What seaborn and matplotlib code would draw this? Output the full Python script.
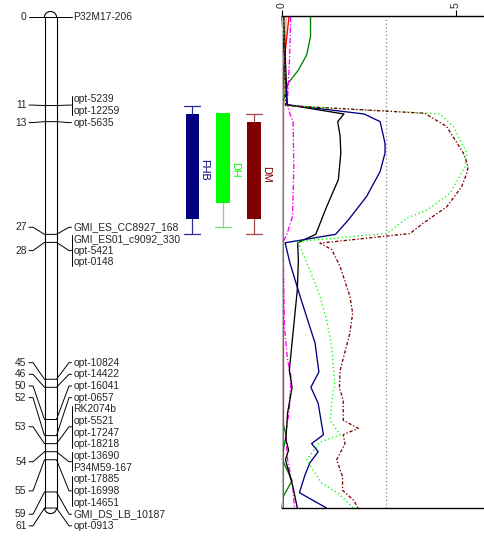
import numpy as np
import pandas as pd
import matplotlib
matplotlib.use("Agg")
import matplotlib.pyplot as plt
from matplotlib.patches import Arc
import seaborn as sns

# ---------------- data ----------------
marker_pos = [0, 11, 13, 27, 28, 45, 46, 50, 52, 53, 54, 55, 59, 61]
marker_names = [
    ["P32M17-206"],
    ["opt-5239", "opt-12259"],
    ["opt-5635"],
    ["GMI_ES_CC8927_168"],
    ["GMI_ES01_c9092_330", "opt-5421", "opt-0148"],
    ["opt-10824"],
    ["opt-14422"],
    ["opt-16041"],
    ["opt-0657"],
    ["RK2074b", "opt-5521", "opt-17247", "opt-18218"],
    ["opt-13690", "P34M59-167"],
    ["opt-17885", "opt-16998", "opt-14651"],
    ["GMI_DS_LB_10187"],
    ["opt-0913"],
]

qtl_traits = ["FHB", "DH", "DM"]
qtl_ci_lo = [11.02, 11.96, 12.05]
qtl_ci_hi = [26.96, 26.05, 26.96]
qtl_box_lo = [12.05, 11.96, 13.0]
qtl_box_hi = [25.09, 23.07, 25.1]

fhb_cm = [0, 10.9, 12.05, 13.0, 15.7, 16.9, 19.2, 22.3, 25.2, 27.0, 28.05, 30.6, 34.7,
          38.5, 40.5, 44.1, 46.0, 48.0, 51.9, 53.0, 54.0, 55.4, 56.9, 59.1, 61.0]
fhb_lod = [0.0, 0.14, 2.36, 2.82, 2.96, 2.96, 2.82, 2.43, 1.91, 1.54, 0.09, 0.23, 0.52,
           0.80, 0.95, 1.06, 0.83, 1.04, 1.19, 0.85, 1.04, 0.80, 0.66, 0.50, 1.28]

blk_cm = [0, 10.9, 12.05, 13.0, 14.8, 16.9, 20.2, 23.6, 27.0, 28.05, 30.2, 33.9, 43.9,
          46.0, 49.2, 52.5, 53.8, 55.0, 58.3, 61.0]
blk_lod = [0.05, 0.15, 1.78, 1.60, 1.67, 1.69, 1.62, 1.28, 0.97, 0.45, 0.47, 0.44, 0.21,
           0.29, 0.16, 0.11, 0.19, 0.10, 0.31, 0.44]

dh_cm = [0, 11.0, 12.05, 13.6, 16.9, 18.6, 21.9, 24.0, 25.0, 26.9, 27.9, 28.1, 31.4, 34.7,
         37.6, 41.0, 45.9, 46.3, 50.1, 51.9, 52.8, 55.0, 55.7, 57.9, 59.2, 61.0]
dh_lod = [0.05, 0.1, 4.54, 4.92, 5.31, 5.26, 4.83, 4.16, 3.58, 3.01, 0.42, 0.47, 0.80, 1.09,
          1.28, 1.43, 1.52, 1.47, 1.38, 1.67, 1.09, 0.71, 0.80, 1.14, 1.62, 2.05]

dm_cm = [0, 11.0, 11.96, 13.6, 16.9, 18.6, 19.4, 21.1, 23.6, 25.6, 26.9, 28.1, 28.9, 31.0,
         34.7, 36.8, 39.3, 43.9, 46.1, 47.6, 50.1, 51.1, 51.9, 53.0, 55.0, 57.1, 58.8, 60.0, 61.0]
dm_lod = [0.05, 0.1, 4.1, 4.73, 5.21, 5.35, 5.31, 5.16, 4.73, 4.06, 3.68, 1.09, 1.43, 1.67,
          1.95, 2.03, 1.95, 1.67, 1.65, 1.76, 1.76, 2.19, 1.76, 1.81, 1.57, 1.74, 1.74, 2.05, 2.19]

grn_cm = [0, 2.4, 4.7, 6.6, 8.2, 10.3, 11.0, 28.0, 45.0, 50.5, 52.0, 53.5, 55.0, 57.6, 59.6, 61.0]
grn_lod = [0.82, 0.82, 0.71, 0.47, 0.18, 0.04, 0.02, 0.02, 0.02, 0.03, 0.12, 0.05, 0.01, 0.29, 0.03, 0.0]

mag_cm = [0, 5, 10.9, 12.05, 13.0, 18.6, 24.8, 27.0, 28.05, 30.2, 38.5, 42.6, 44.7, 48.8,
          51.7, 55.0, 58.3, 61.0]
mag_lod = [0.25, 0.22, 0.15, 0.23, 0.32, 0.34, 0.30, 0.14, 0.02, 0.04, 0.07, 0.16, 0.26, 0.21,
           0.11, 0.16, 0.31, 0.36]

red_cm = [0, 6, 11, 28, 45, 61]
red_lod = [0.2, 0.05, 0.02, 0.02, 0.03, 0.03]

sal_cm = [0, 11, 28, 45, 61]
sal_lod = [0.12, 0.05, 0.04, 0.05, 0.04]

lod_threshold = 3.0
lod_ticks = [0, 5]

# ---------------- styles / layout ----------------
trait_styles = {
    "salmon": dict(color="#f4a090", ls="-"),
    "red": dict(color="#ff0000", ls="-"),
    "green": dict(color="#008000", ls="-"),
    "magenta": dict(color="#ff00ff", ls=(0, (4, 1.5, 1, 1.5))),
    "black": dict(color="#000000", ls="-"),
    "FHB": dict(color="#000080", ls="-"),
    "DH": dict(color="#00ff00", ls=(0, (1, 2))),
    "DM": dict(color="#800000", ls=(0, (2.5, 1.5, 1, 1.5))),
}
qtl_colors = ["#000080", "#00ff00", "#800000"]
qtl_whisker_colors = ["#2a2a9a", "#70e070", "#a04a4a"]
qtl_x = [192.3, 223.0, 254.0]

label_step = 1.448
cluster_start = {0: 0.0, 1: 10.22, 3: 26.12, 5: 42.94}

FS = 7.4
W, H = 484, 538
Y_TOP = 17.0       # pixel of 0 cM
PX_PER_CM = 8.05

sns.set_style("white")
plt.rcParams["font.family"] = ["Liberation Sans", "DejaVu Sans"]

fig = plt.figure(figsize=(W / 100, H / 100), dpi=100)

# ---------- map axes (x in pixels, y in cM) ----------
ax = fig.add_axes([0, 0, 1, 1])
ax.set_xlim(0, W)
ax.set_ylim((H - Y_TOP) / PX_PER_CM, -Y_TOP / PX_PER_CM)
ax.axis("off")

cx_l, cx_r = 44.5, 56.5
top_cm, bot_cm = marker_pos[0], marker_pos[-1]
ax.plot([cx_l, cx_l], [top_cm, bot_cm], color="black", lw=0.8)
ax.plot([cx_r, cx_r], [top_cm, bot_cm], color="black", lw=0.8)
cap_h = 2 * 5.5 / PX_PER_CM
ax.add_patch(Arc(((cx_l + cx_r) / 2, top_cm), cx_r - cx_l, cap_h, theta1=180, theta2=360,
                 color="black", lw=0.8))
ax.add_patch(Arc(((cx_l + cx_r) / 2, bot_cm), cx_r - cx_l, cap_h, theta1=0, theta2=180,
                 color="black", lw=0.8))

cur = 0.0
for gi, (m, names) in enumerate(zip(marker_pos, marker_names)):
    if gi in cluster_start:
        cur = cluster_start[gi]
    ys = []
    for nm in names:
        ys.append(cur)
        ax.text(73.5, cur, nm, ha="left", va="center", fontsize=FS)
        cur += label_step
    mid = float(np.mean(ys))
    # left number and connector
    ax.text(26.5, mid, f"{m}", ha="right", va="center", fontsize=FS)
    ax.plot([29, 33, cx_l, cx_r, 69, 71.5], [mid, mid, m, m, mid, mid],
            color="black", lw=0.7)
    if len(names) > 1:
        ax.plot([71.5, 71.5], [ys[0] - 0.45, ys[-1] + 0.45], color="black", lw=0.7)

# QTL intervals
for i, t in enumerate(qtl_traits):
    x = qtl_x[i]
    ax.bar(x, qtl_box_hi[i] - qtl_box_lo[i], bottom=qtl_box_lo[i], width=13.5,
           color=qtl_colors[i], edgecolor="none")
    wc = qtl_whisker_colors[i]
    if qtl_ci_lo[i] < qtl_box_lo[i]:
        ax.plot([x, x], [qtl_ci_lo[i], qtl_box_lo[i]], color=wc, lw=0.9)
        ax.plot([x - 8, x + 8], [qtl_ci_lo[i], qtl_ci_lo[i]], color=wc, lw=0.9)
    if qtl_ci_hi[i] > qtl_box_hi[i]:
        ax.plot([x, x], [qtl_box_hi[i], qtl_ci_hi[i]], color=wc, lw=0.9)
        ax.plot([x - 8, x + 8], [qtl_ci_hi[i], qtl_ci_hi[i]], color=wc, lw=0.9)
    ax.text(x + 12, (qtl_ci_lo[i] + qtl_ci_hi[i]) / 2, t, rotation=-90, ha="center",
            va="center", fontsize=7.8, color=qtl_colors[i])

# ---------- LOD axes ----------
x0, x1 = 282, W
ytop_px, ybot_px = 16, 508
lax = fig.add_axes([x0 / W, 1 - ybot_px / H, (x1 - x0) / W, (ybot_px - ytop_px) / H])
lax.patch.set_alpha(0)

series = {
    "salmon": (sal_cm, sal_lod), "red": (red_cm, red_lod), "green": (grn_cm, grn_lod),
    "magenta": (mag_cm, mag_lod), "black": (blk_cm, blk_lod), "FHB": (fhb_cm, fhb_lod),
    "DH": (dh_cm, dh_lod), "DM": (dm_cm, dm_lod),
}
frames = [pd.DataFrame({"cM": c, "LOD": l, "trait": k}) for k, (c, l) in series.items()]
df = pd.concat(frames, ignore_index=True)

lax.axvline(lod_threshold, color="#888888", ls=(0, (1, 2)), lw=0.9)
for k in series:
    st = trait_styles[k]
    sns.lineplot(data=df[df.trait == k], x="LOD", y="cM", orient="y", sort=False,
                 estimator=None, color=st["color"], lw=0.95, ax=lax)
    lax.lines[-1].set_linestyle(st["ls"])
    lax.lines[-1].set_clip_on(False)

lax.set_xlim(0, (x1 - x0) / 34.8)
lax.set_ylim(bot_cm, top_cm - (Y_TOP - ytop_px) / PX_PER_CM)
lax.set_xlabel("")
lax.set_ylabel("")
lax.set_yticks([])
lax.xaxis.tick_top()
lax.set_xticks(lod_ticks)
lax.set_xticklabels([str(t) for t in lod_ticks], rotation=90, fontsize=FS)
lax.tick_params(axis="x", direction="out", length=4, width=0.8, pad=1.5, color="black")
for s in ["top", "bottom"]:
    lax.spines[s].set_visible(True)
    lax.spines[s].set_color("black")
    lax.spines[s].set_linewidth(1.0)
lax.spines["right"].set_visible(False)
lax.spines["left"].set_color("#bbbbbb")
lax.spines["left"].set_linewidth(0.8)

fig.savefig("out.png", dpi=100)
